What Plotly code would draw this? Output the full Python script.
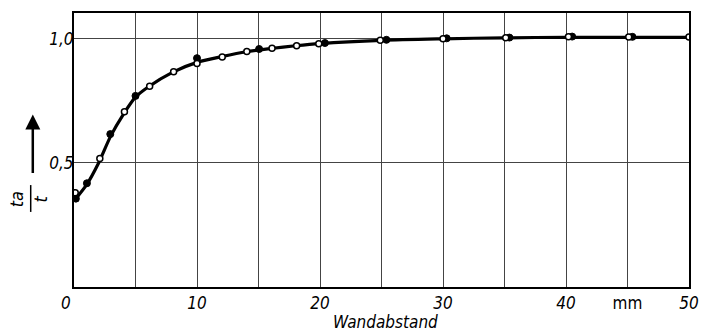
import plotly.graph_objects as go

# Open-circle measurements
open_x = [0.1, 2.1, 4.1, 6.15, 8.1, 10.0, 12.05, 14.05, 16.1, 18.1, 19.9, 24.9, 30.0, 35.1, 40.2, 45.1, 50.0]
open_y = [0.380, 0.518, 0.706, 0.809, 0.867, 0.901, 0.927, 0.949, 0.962, 0.972, 0.980, 0.994, 1.000, 1.004, 1.008, 1.007, 1.007]

# Filled-circle measurements
filled_x = [0.15, 1.05, 2.95, 5.0, 10.0, 15.05, 20.4, 25.4, 30.3, 35.4, 40.5, 45.4]
filled_y = [0.356, 0.418, 0.616, 0.770, 0.922, 0.959, 0.983, 0.996, 1.002, 1.005, 1.009, 1.008]

# Curve
curve_x = [0.15, 1, 2, 3, 4, 5, 6, 8, 10, 12, 14, 16, 18, 20, 25, 30, 35, 40, 45, 50]
curve_y = [0.356, 0.41, 0.50, 0.61, 0.695, 0.765, 0.805, 0.865, 0.905, 0.928, 0.948, 0.961, 0.972, 0.981, 0.994, 1.0, 1.004, 1.006, 1.006, 1.006]

x_tickvals = [0, 5, 10, 15, 20, 25, 30, 35, 40, 45, 50]
x_ticktext = ["", "", "<i>10</i>", "", "<i>20</i>", "", "<i>30</i>", "", "<i>40</i>", "mm", "<i>50</i>"]
x_origin_label = "<i>0</i>"
y_tickvals = [0.5, 1.0]
y_ticktext = ["<i>0,5</i>", "<i>1,0</i>"]

FONT = "DejaVu Sans Condensed"

fig = go.Figure()
fig.add_trace(go.Scatter(x=curve_x, y=curve_y, mode="lines", line=dict(color="black", width=3.2, shape="spline", smoothing=0.8),
                         hoverinfo="skip", showlegend=False))
fig.add_trace(go.Scatter(x=filled_x, y=filled_y, mode="markers",
                         marker=dict(color="black", size=7, line=dict(color="black", width=1)), showlegend=False))
fig.add_trace(go.Scatter(x=open_x, y=open_y, mode="markers",
                         marker=dict(color="white", size=6, line=dict(color="black", width=1.5)), showlegend=False))

fig.update_layout(
    width=708, height=332,
    margin=dict(l=74, r=9, t=13, b=45),
    paper_bgcolor="white", plot_bgcolor="white",
    font=dict(family=FONT, color="black"),
    xaxis=dict(range=[0, 50], tickvals=x_tickvals, ticktext=x_ticktext, showgrid=True, gridcolor="#444", gridwidth=1,
               zeroline=False, showline=True, linecolor="black", linewidth=2, mirror=True, ticks="",
               tickfont=dict(family=FONT, size=17, color="black")),
    yaxis=dict(range=[0, 1.104], tickvals=y_tickvals, ticktext=y_ticktext, showgrid=True, gridcolor="#444", gridwidth=1,
               zeroline=False, showline=True, linecolor="black", linewidth=2, mirror=True, ticks="",
               ticklabelstandoff=-5,
               tickfont=dict(family=FONT, size=17, color="black")),
)

# origin label, set slightly left of the axis as in the reference
fig.add_annotation(text=x_origin_label, x=0, y=0, xref="x", yref="y", yanchor="top", xanchor="center",
                   xshift=-8, yshift=-4, showarrow=False, font=dict(family=FONT, size=17))

# x-axis title
fig.add_annotation(text="<i>Wandabstand</i>", xref="paper", yref="paper", x=0.506, y=-0.128,
                   xanchor="center", yanchor="middle", showarrow=False, font=dict(family=FONT, size=17))

# y-axis title: fraction t_a / t rotated, with arrow
fig.add_annotation(text="<i>ta</i>", xref="paper", yref="paper", x=-0.094, y=0.321, textangle=-90,
                   xanchor="center", yanchor="middle", showarrow=False, font=dict(family=FONT, size=18))
fig.add_annotation(text="<i>t</i>", xref="paper", yref="paper", x=-0.056, y=0.321, textangle=-90,
                   xanchor="center", yanchor="middle", showarrow=False, font=dict(family=FONT, size=18))
fig.add_shape(type="line", xref="paper", yref="paper", x0=-0.0704, x1=-0.0704, y0=0.274, y1=0.372,
              line=dict(color="black", width=1.5))
fig.add_annotation(text="", xref="paper", yref="paper", x=-0.067, y=0.63, ax=0, ay=60,
                   showarrow=True, arrowhead=2, arrowsize=1.2, arrowwidth=2.5, arrowcolor="black")

fig.write_html("out.html")
